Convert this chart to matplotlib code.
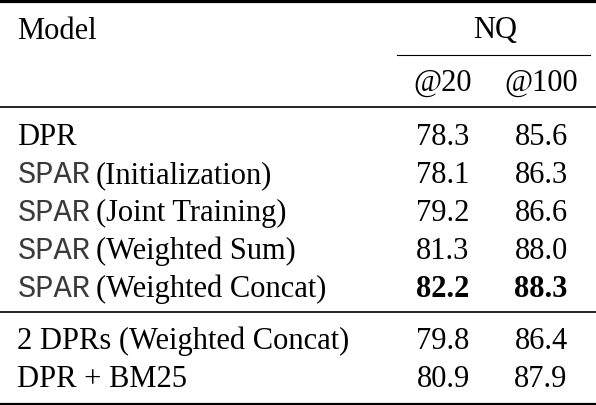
import matplotlib.pyplot as plt

models = ["DPR", "SPAR (Initialization)", "SPAR (Joint Training)",
          "SPAR (Weighted Sum)", "SPAR (Weighted Concat)",
          "2 DPRs (Weighted Concat)", "DPR + BM25"]
at20 = [78.3, 78.1, 79.2, 81.3, 82.2, 79.8, 80.9]
at100 = [85.6, 86.3, 86.6, 88.0, 88.3, 86.4, 87.9]
groups = [5, 2]
dataset = "NQ"
columns = ["@20", "@100"]

W, H = 596, 406
fig = plt.figure(figsize=(W / 100, H / 100), dpi=100)
ax = fig.add_axes([0, 0, 1, 1])
ax.set_xlim(0, W)
ax.set_ylim(H, 0)
ax.axis("off")

serif = "Liberation Serif"
mono = "Liberation Mono"
fs = 22
left = 17
col_x = [443, 541]

# rules
ax.axhline(1.5, color="black", lw=2.3)
ax.axhline(108, color="black", lw=1.2)
ax.axhline(313, color="black", lw=1.2)
ax.axhline(404.5, color="black", lw=2.3)
ax.plot([397, 590], [56, 56], color="black", lw=0.8)

# header
ax.text(left, 39, "Model", fontsize=fs, family=serif, va="baseline")
ax.text((397 + 590) / 2 + 2, 38, dataset, fontsize=fs, family=serif,
        va="baseline", ha="center")
for x, c in zip(col_x, columns):
    ax.text(x, 91, c, fontsize=fs, family=serif, va="baseline", ha="center")

fig.canvas.draw()
renderer = fig.canvas.get_renderer()

best20 = max(at20)
best100 = max(at100)
ys = []
for i in range(groups[0]):
    ys.append(145 + 38 * i)
for i in range(groups[1]):
    ys.append(349 + 38 * i)

for name, a, b, y in zip(models, at20, at100, ys):
    if name.startswith("SPAR "):
        t = ax.text(left + 1, y, "SPAR", fontsize=fs, family=mono,
                    va="baseline", color="#3a3a3a")
        bb = t.get_window_extent(renderer)
        x0 = ax.transData.inverted().transform((bb.x1, bb.y0))[0]
        ax.text(x0 + 5, y, name[5:], fontsize=fs, family=serif, va="baseline")
    else:
        ax.text(left, y, name, fontsize=fs, family=serif, va="baseline")
    ax.text(col_x[0], y, f"{a:.1f}", fontsize=fs, family=serif, va="baseline",
            ha="center", weight="bold" if a == best20 else "normal")
    ax.text(col_x[1], y, f"{b:.1f}", fontsize=fs, family=serif, va="baseline",
            ha="center", weight="bold" if b == best100 else "normal")

fig.savefig("out.png", dpi=100)
